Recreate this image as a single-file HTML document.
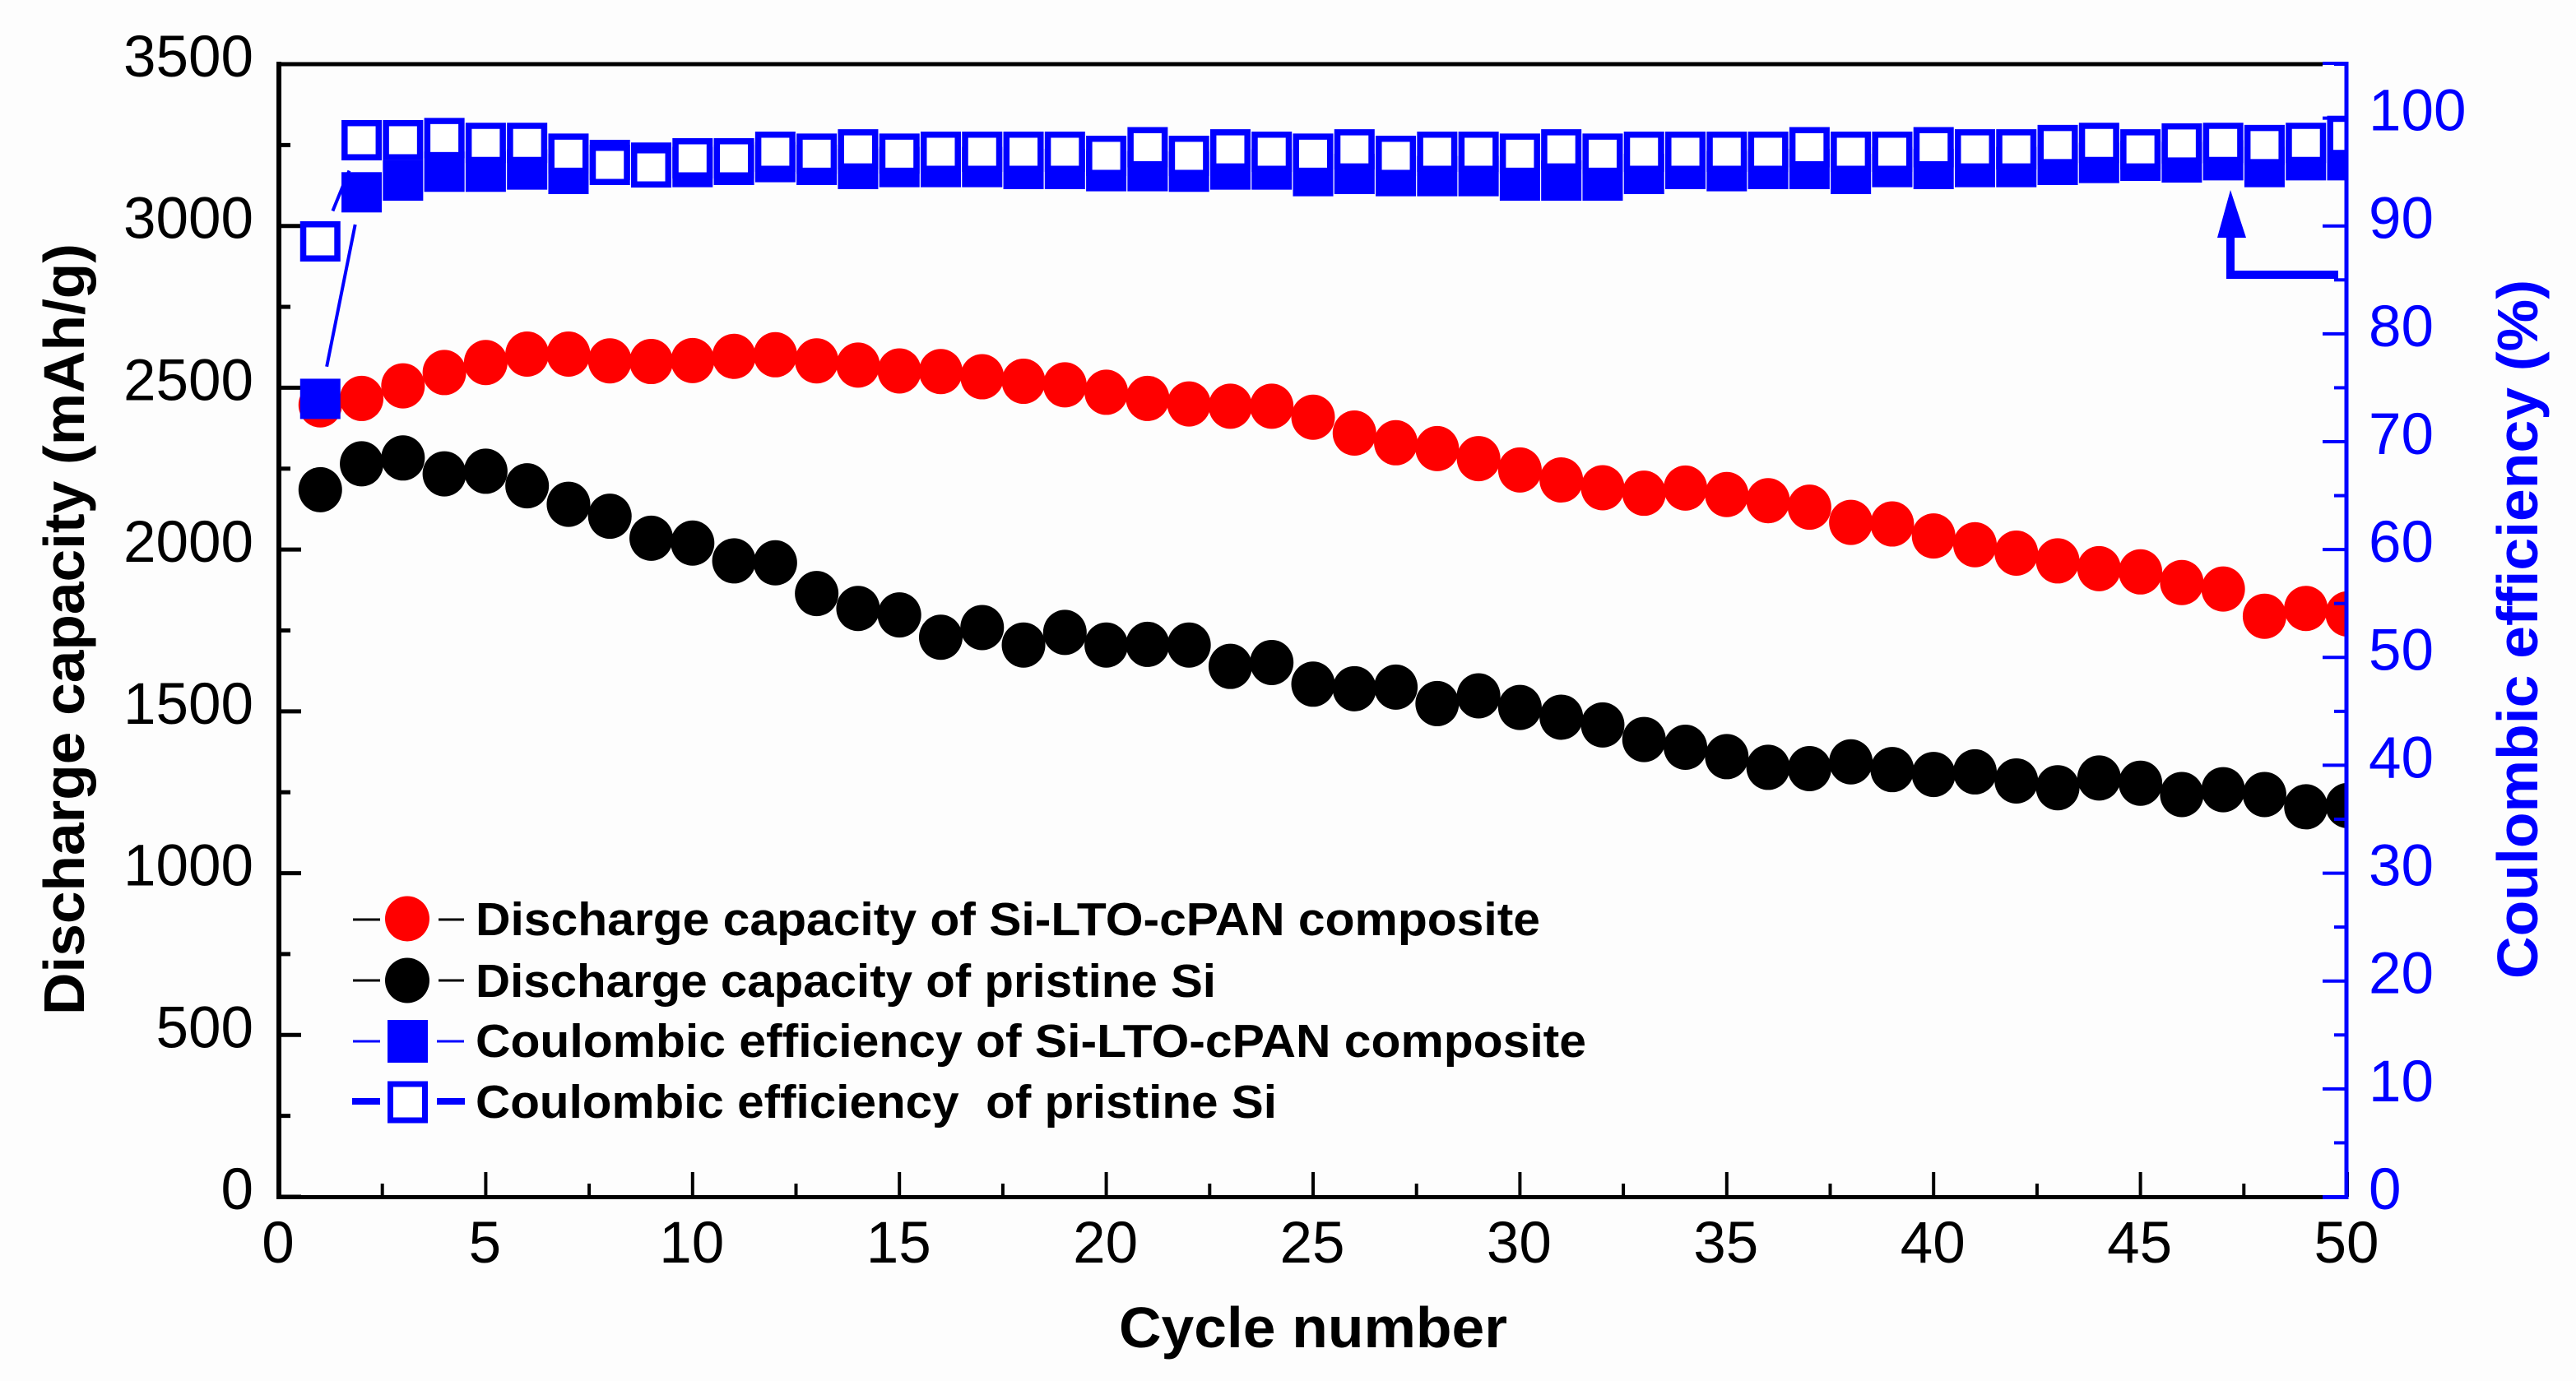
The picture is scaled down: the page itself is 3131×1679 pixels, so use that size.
<!DOCTYPE html>
<html lang="en">
<head>
<meta charset="utf-8">
<title>Discharge capacity and Coulombic efficiency vs cycle number</title>
<style>
html,body{margin:0;padding:0;background:#fdfdfd;width:3131px;height:1679px;overflow:hidden}
svg{display:block;font-family:"Liberation Sans",Arial,sans-serif}
.leg{font-size:57px;font-weight:bold;fill:#000;white-space:pre}
.title{font-size:70px;font-weight:bold}
.tick{font-size:71px}
</style>
</head>
<body>
<svg id="chart" xmlns="http://www.w3.org/2000/svg" width="3131" height="1679" viewBox="0 0 3131 1679">
  <defs>
    <clipPath id="plot-clip"><rect x="339" y="0" width="2514" height="1679"/></clipPath>
  </defs>
  <rect x="0" y="0" width="3131" height="1679" fill="#fdfdfd"/>
  <g id="axes-back"></g>
  <g id="marks" clip-path="url(#plot-clip)"></g>
  <g id="axes-front"></g>

  <text class="title" x="1360" y="1638" textLength="472" lengthAdjust="spacingAndGlyphs" fill="#000">Cycle number</text>
  <text class="title" transform="translate(102,1234) rotate(-90)" x="0" y="0" textLength="938" lengthAdjust="spacingAndGlyphs" fill="#000">Discharge capacity (mAh/g)</text>
  <text class="title" transform="translate(3084,1190) rotate(-90)" x="0" y="0" textLength="850" lengthAdjust="spacingAndGlyphs" fill="#0000ff">Coulombic efficiency (%)</text>

  <g>
    <path d="M2842 334 H2711 V285" fill="none" stroke="#0000ff" stroke-width="10"/>
    <polygon points="2711,231 2730,289 2695,289" fill="#0000ff"/>
  </g>

  <g>
    <g>
      <line x1="429" y1="1118" x2="462" y2="1118" stroke="#000" stroke-width="3"/>
      <line x1="533" y1="1118" x2="564" y2="1118" stroke="#000" stroke-width="3"/>
      <ellipse cx="495" cy="1117" rx="27" ry="27.5" fill="#ff0000"/>
      <text class="leg" x="578" y="1137" textLength="1294" lengthAdjust="spacingAndGlyphs">Discharge capacity of Si-LTO-cPAN composite</text>
    </g>
    <g>
      <line x1="429" y1="1192" x2="462" y2="1192" stroke="#000" stroke-width="3"/>
      <line x1="533" y1="1192" x2="564" y2="1192" stroke="#000" stroke-width="3"/>
      <ellipse cx="495" cy="1192" rx="27" ry="27.5" fill="#000"/>
      <text class="leg" x="578" y="1212" textLength="900" lengthAdjust="spacingAndGlyphs">Discharge capacity of pristine Si</text>
    </g>
    <g>
      <line x1="429" y1="1266" x2="462" y2="1266" stroke="#0000ff" stroke-width="3"/>
      <line x1="531" y1="1266" x2="564" y2="1266" stroke="#0000ff" stroke-width="3"/>
      <rect x="471" y="1240" width="49" height="52" fill="#0000ff"/>
      <text class="leg" x="578" y="1285" textLength="1350" lengthAdjust="spacingAndGlyphs">Coulombic efficiency of Si-LTO-cPAN composite</text>
    </g>
    <g>
      <line x1="428" y1="1339" x2="462" y2="1339" stroke="#0000ff" stroke-width="8"/>
      <line x1="531" y1="1339" x2="565" y2="1339" stroke="#0000ff" stroke-width="8"/>
      <rect x="474.5" y="1318" width="42" height="44" fill="#fff" stroke="#0000ff" stroke-width="7"/>
      <text class="leg" x="578" y="1359" textLength="974" lengthAdjust="spacingAndGlyphs" xml:space="preserve">Coulombic efficiency  of pristine Si</text>
    </g>
  </g>
</svg>
<script>
const cycles = [1,2,3,4,5,6,7,8,9,10,11,12,13,14,15,16,17,18,19,20,21,22,23,24,25,26,27,28,29,30,31,32,33,34,35,36,37,38,39,40,41,42,43,44,45,46,47,48,49,50];
const capacityComposite = [2447,2467,2506,2547,2578,2604,2604,2583,2581,2584,2597,2602,2583,2570,2552,2550,2534,2520,2509,2486,2467,2450,2443,2443,2409,2360,2330,2312,2281,2246,2215,2191,2174,2190,2170,2151,2131,2084,2079,2042,2015,1989,1965,1941,1931,1898,1878,1794,1818,1801];
const capacityPristine = [2185,2265,2283,2234,2242,2197,2140,2103,2035,2020,1965,1959,1864,1818,1798,1729,1759,1705,1744,1705,1707,1705,1639,1651,1584,1570,1575,1524,1548,1512,1482,1458,1413,1389,1360,1327,1323,1344,1320,1305,1313,1285,1264,1294,1278,1243,1258,1243,1205,1209];
const efficiencyComposite = [73.97,93.12,94.21,95.03,95.03,95.23,94.82,96.12,95.87,95.46,95.66,95.92,95.66,95.28,95.46,95.46,95.46,95.28,95.28,95.08,95.08,95.03,95.23,95.23,94.62,94.82,94.62,94.62,94.62,94.21,94.21,94.21,94.82,95.28,95.08,95.28,95.28,94.82,95.46,95.28,95.46,95.46,95.66,95.84,96.04,95.89,96.09,95.46,96.09,96.09];
const efficiencyPristine = [88.57,97.95,97.95,98.15,97.7,97.7,96.7,95.66,95.43,96.27,96.27,96.88,96.7,97.1,96.7,96.88,96.88,96.88,96.88,96.5,97.3,96.5,97.1,96.88,96.7,97.1,96.5,96.88,96.88,96.7,97.1,96.7,96.88,96.88,96.88,96.88,97.3,96.88,96.88,97.3,97.1,97.1,97.5,97.7,97.1,97.65,97.7,97.5,97.7,98.35];
const xTickLabels = ["0","5","10","15","20","25","30","35","40","45","50"];
const leftTickLabels = ["0","500","1000","1500","2000","2500","3000","3500"];
const rightTickLabels = ["0","10","20","30","40","50","60","70","80","90","100"];

const NS = "http://www.w3.org/2000/svg";
const PLOT_LEFT = 339, PLOT_RIGHT = 2853, PLOT_TOP = 78, PLOT_BOTTOM = 1455;
const X_MAX = 50, LEFT_MAX = 3500, RIGHT_MAX = 105;
const LINE_GAP = 40;
function xScale(v){ return PLOT_LEFT + (v / X_MAX) * (PLOT_RIGHT - PLOT_LEFT); }
function yLeft(v){ return PLOT_BOTTOM - (v / LEFT_MAX) * (PLOT_BOTTOM - PLOT_TOP); }
function yRight(v){ return PLOT_BOTTOM - (v / RIGHT_MAX) * (PLOT_BOTTOM - PLOT_TOP); }

function make(tag, parent, attrs){
  const el = document.createElementNS(NS, tag);
  for (const k in attrs) el.setAttribute(k, attrs[k]);
  parent.appendChild(el);
  return el;
}
const axesBack = document.getElementById("axes-back");
const axesFront = document.getElementById("axes-front");
const marks = document.getElementById("marks");

function axisLine(parent, name, x1, y1, x2, y2, color, width){
  const el = make("line", parent, {x1:x1, y1:y1, x2:x2, y2:y2, stroke:color, "stroke-width":width});
  
  
  return el;
}
function tickLabel(parent, name, text, x, y, anchor, color){
  const el = make("text", parent, {x:x, y:y, "text-anchor":anchor, fill:color, "class":"tick"});
  el.textContent = text;
  
  
  return el;
}

// frame
axisLine(axesBack, "left-axis-line", PLOT_LEFT, PLOT_TOP - 3, PLOT_LEFT, PLOT_BOTTOM + 3, "#000", 6);
axisLine(axesBack, "top-axis-line", PLOT_LEFT, PLOT_TOP, PLOT_RIGHT - 30, PLOT_TOP, "#000", 5);
axisLine(axesBack, "x-axis-line", PLOT_LEFT, PLOT_BOTTOM + 0.5, PLOT_RIGHT - 30, PLOT_BOTTOM + 0.5, "#000", 5);

// x ticks
xTickLabels.forEach(function(lab, i){
  const v = Number(lab);
  const x = xScale(v);
  axisLine(axesBack, "x-major-tick", x, PLOT_BOTTOM, x, PLOT_BOTTOM - 30, "#000", 4);
  if (i < xTickLabels.length - 1) {
    const step = Number(xTickLabels[i + 1]) - v;
    const xm = xScale(v + step / 2);
    axisLine(axesBack, "x-minor-tick", xm, PLOT_BOTTOM, xm, PLOT_BOTTOM - 16, "#000", 4);
  }
  tickLabel(axesBack, "x-tick-label", lab, x - 1, 1535, "middle", "#000");
});

// left ticks
leftTickLabels.forEach(function(lab, i){
  const v = Number(lab);
  const y = yLeft(v);
  axisLine(axesBack, "left-major-tick", PLOT_LEFT, y, PLOT_LEFT + 27, y, "#000", 5);
  if (i < leftTickLabels.length - 1) {
    const step = Number(leftTickLabels[i + 1]) - v;
    const ym = yLeft(v + step / 2);
    axisLine(axesBack, "left-minor-tick", PLOT_LEFT, ym, PLOT_LEFT + 14, ym, "#000", 5);
  }
  tickLabel(axesBack, "left-tick-label", lab, 308, y + 15, "end", "#000");
});

// series markers
function circleSeries(values, yFn, color, name){
  const g = make("g", marks, {});
  
  
  values.forEach(function(v, i){
    const c = make("ellipse", g, {cx:xScale(cycles[i]), cy:yFn(v), rx:26.5, ry:27.5, fill:color});
    
    
  });
}
function squareSeries(values, yFn, hollow, name){
  const g = make("g", marks, {});
  
  
  values.forEach(function(v, i){
    const x = xScale(cycles[i]), y = yFn(v);
    const attrs = hollow
      ? {x:x - 20.75, y:y - 20.75, width:41.5, height:41.5, fill:"#fff", stroke:"#0000ff", "stroke-width":7.5}
      : {x:x - 24.5, y:y - 24.5, width:49, height:49, fill:"#0000ff"};
    const r = make("rect", g, attrs);
    
    
  });
}
function gapLines(values, yFn, color, width, name){
  const g = make("g", marks, {});
  
  
  for (let i = 0; i < values.length - 1; i++) {
    const x1 = xScale(cycles[i]), y1 = yFn(values[i]);
    const x2 = xScale(cycles[i + 1]), y2 = yFn(values[i + 1]);
    const d = Math.hypot(x2 - x1, y2 - y1);
    if (d <= 2 * LINE_GAP) continue;
    const ux = (x2 - x1) / d, uy = (y2 - y1) / d;
    const l = make("line", g, {
      x1:x1 + ux * LINE_GAP, y1:y1 + uy * LINE_GAP,
      x2:x2 - ux * LINE_GAP, y2:y2 - uy * LINE_GAP,
      stroke:color, "stroke-width":width
    });
    
    
  }
}
circleSeries(capacityPristine, yLeft, "#000000", "series-capacity-pristine");
circleSeries(capacityComposite, yLeft, "#ff0000", "series-capacity-composite");
squareSeries(efficiencyComposite, yRight, false, "series-efficiency-composite");
squareSeries(efficiencyPristine, yRight, true, "series-efficiency-pristine");
gapLines(efficiencyComposite, yRight, "#0000ff", 4, "connector-efficiency-composite");
gapLines(efficiencyPristine, yRight, "#0000ff", 4, "connector-efficiency-pristine");

// right axis
axisLine(axesFront, "right-axis-line", PLOT_RIGHT - 1, PLOT_TOP - 3, PLOT_RIGHT - 1, PLOT_BOTTOM + 3, "#0000ff", 5);
axisLine(axesFront, "top-axis-blue-end", PLOT_RIGHT - 30, PLOT_TOP - 1, PLOT_RIGHT, PLOT_TOP - 1, "#0000ff", 4);
axisLine(axesFront, "bottom-axis-blue-end", PLOT_RIGHT - 30, PLOT_BOTTOM + 0.5, PLOT_RIGHT, PLOT_BOTTOM + 0.5, "#0000ff", 5);
rightTickLabels.forEach(function(lab, i){
  const v = Number(lab);
  const y = yRight(v);
  axisLine(axesFront, "right-major-tick", PLOT_RIGHT - 1, y, PLOT_RIGHT - 30, y, "#0000ff", 4);
  const step = i < rightTickLabels.length - 1 ? Number(rightTickLabels[i + 1]) - v : 10;
  if (v + step / 2 <= RIGHT_MAX) {
    const ym = yRight(v + step / 2);
    axisLine(axesFront, "right-minor-tick", PLOT_RIGHT - 1, ym, PLOT_RIGHT - 16, ym, "#0000ff", 4);
  }
  tickLabel(axesFront, "right-tick-label", lab, 2879, y + 15, "start", "#0000ff");
});
</script>
</body>
</html>
